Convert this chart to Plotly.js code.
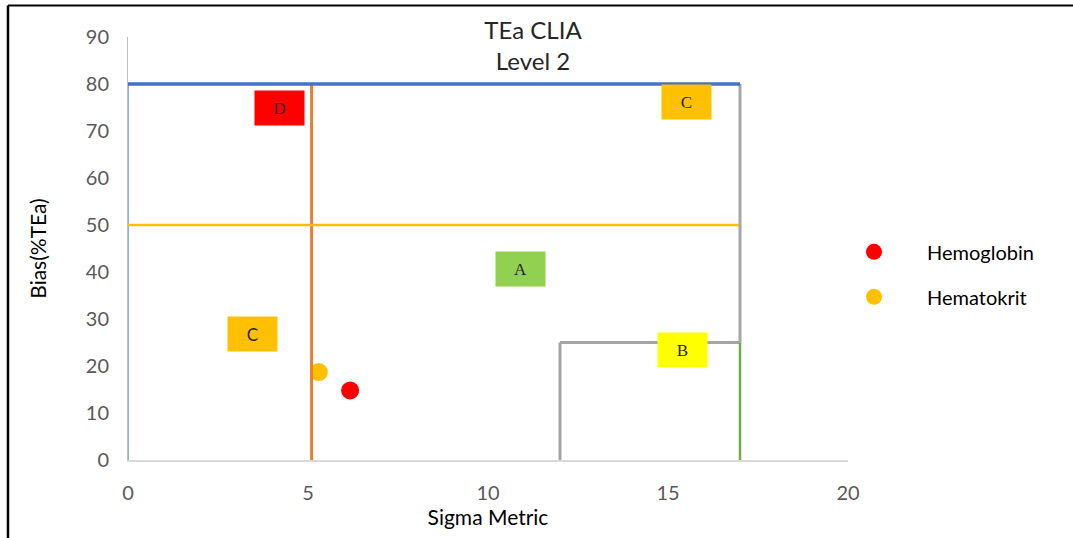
<!DOCTYPE html>
<html>
<head>
<meta charset="utf-8">
<script src="https://cdn.plot.ly/plotly-3.0.1.min.js"></script>
<style>
html,body{margin:0;padding:0;background:#fff;}
#chart{width:1073px;height:538px;}
</style>
</head>
<body>
<div id="chart"></div>
<script>
// Data
const seriesNames = ["Hemoglobin", "Hematokrit"];
const seriesColors = ["#FF0000", "#FFC000"];
const sigmaValues = [6.17, 5.3];
const biasValues = [14.8, 18.7];

// Zone boundary lines: [x0, y0, x1, y1]
const zoneLineCoords = [
  [0, 0, 0, 80],
  [5.1, 0, 5.1, 80],
  [0, 50, 17, 50],
  [17, 25, 17, 80],
  [12, 0, 12, 25],
  [12, 25, 17, 25],
  [17, 0, 17, 25],
  [0, 80, 17, 80]
];
const zoneLineColors = ["#5B9BD5", "#ED7D31", "#FFC000", "#A5A5A5", "#A5A5A5", "#A5A5A5", "#70AD47", "#4472C4"];
const zoneLineWidths = [1.5, 3, 2.5, 3, 3, 3, 2.5, 3.5];

// Zone labels
const zoneLabels = ["D", "C", "A", "C", "B"];
const zoneLabelX = [4.2, 15.5, 10.9, 3.45, 15.4];
const zoneLabelY = [75, 76.2, 40.6, 26.8, 23.4];
const zoneLabelBg = ["#FF0000", "#FFC000", "#92D050", "#FFC000", "#FFFF00"];
const zoneLabelFont = ["Liberation Serif", "Liberation Serif", "Liberation Serif", "Lato", "Liberation Serif"];

const xTicks = [0, 5, 10, 15, 20];
const yTicks = [0, 10, 20, 30, 40, 50, 60, 70, 80, 90];

const traces = seriesNames.map((n, i) => ({
  type: "scatter",
  mode: "markers",
  name: n,
  legendgroup: "g" + i,
  x: [sigmaValues[i]],
  y: [biasValues[i]],
  marker: {color: seriesColors[i], size: 18},
  cliponaxis: false
}));

const shapes = zoneLineCoords.map((c, i) => ({
  type: "line", xref: "x", yref: "y",
  x0: c[0], y0: c[1], x1: c[2], y1: c[3],
  line: {color: zoneLineColors[i], width: zoneLineWidths[i]},
  layer: "above"
}));
// outer frame (top and left edges)
shapes.push({type: "line", xref: "paper", yref: "paper", x0: -0.1667, x1: 1.4, y0: 1.0745, y1: 1.0745, line: {color: "#000", width: 2}});
shapes.push({type: "line", xref: "paper", yref: "paper", x0: -0.1667, x1: -0.1667, y0: 1.0745, y1: -0.3, line: {color: "#000", width: 2.5}});

const annotations = zoneLabels.map((t, i) => ({
  x: zoneLabelX[i], y: zoneLabelY[i], xref: "x", yref: "y",
  text: t, showarrow: false,
  font: {family: zoneLabelFont[i], size: 17, color: "#262626"},
  bgcolor: zoneLabelBg[i],
  width: 47, height: 32,
  xanchor: "center", yanchor: "middle"
}));

const layout = {
  width: 1073, height: 538,
  margin: {l: 128, r: 225, t: 37, b: 78},
  paper_bgcolor: "#fff", plot_bgcolor: "#fff",
  title: {
    text: "TEa CLIA<br>Level 2",
    font: {family: "Lato", size: 24, color: "#262626"},
    x: 0.5625, xref: "paper", xanchor: "center",
    y: 0.928, yref: "container", yanchor: "top"
  },
  xaxis: {
    range: [0, 20], tickvals: xTicks, showgrid: false, zeroline: false,
    showline: true, linecolor: "#D9D9D9", linewidth: 2,
    ticks: "", ticklabelstandoff: 14,
    tickfont: {family: "Lato", size: 20, color: "#595959"},
    title: {text: "Sigma Metric", font: {family: "Lato", size: 21, color: "#000"}, standoff: 6},
    fixedrange: true
  },
  yaxis: {
    range: [0, 90], tickvals: yTicks, showgrid: false, zeroline: false,
    showline: true, linecolor: "#BFBFBF", linewidth: 1,
    ticks: "", ticklabelstandoff: 14,
    tickfont: {family: "Lato", size: 20, color: "#595959"},
    title: {text: "Bias(%TEa)", font: {family: "Lato", size: 21, color: "#000"}, standoff: 33},
    fixedrange: true
  },
  legend: {
    x: 0.9625, y: 0.439, xanchor: "left", yanchor: "middle",
    bgcolor: "rgba(0,0,0,0)",
    font: {family: "Lato", size: 20, color: "#000"},
    itemsizing: "trace", tracegroupgap: 16, itemwidth: 96
  },
  shapes: shapes,
  annotations: annotations,
  showlegend: true
};

Plotly.newPlot("chart", traces, layout, {displayModeBar: false, staticPlot: true});
</script>
</body>
</html>
